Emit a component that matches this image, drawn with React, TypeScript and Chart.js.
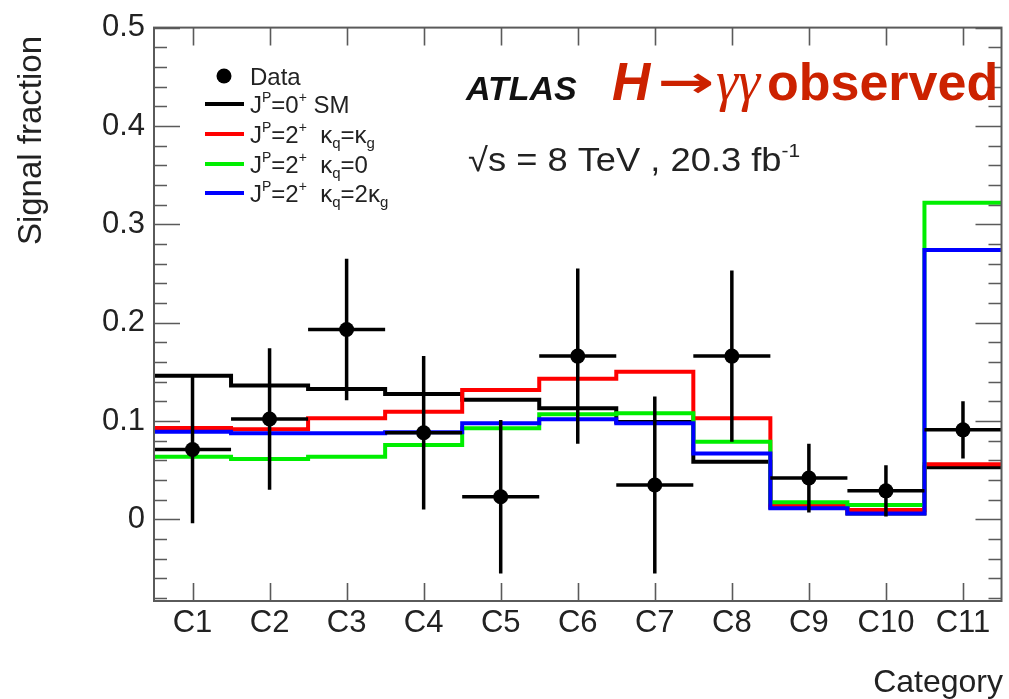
import React, { useEffect, useRef } from 'react';
import { Chart, registerables } from 'chart.js';

Chart.register(...registerables);

const FONT = '"Liberation Sans", Arial, Helvetica, sans-serif';

// Categories and axis tick labels
const CATEGORIES = ['C1', 'C2', 'C3', 'C4', 'C5', 'C6', 'C7', 'C8', 'C9', 'C10', 'C11'];
const Y_TICKS = [0, 0.1, 0.2, 0.3, 0.4, 0.5];
const Y_MIN = -0.083;
const Y_MAX = 0.5;

// Observed signal fraction per category with its (symmetric) uncertainty
const DATA_VALUES = [0.071, 0.102, 0.193, 0.088, 0.023, 0.166, 0.035, 0.166, 0.042, 0.029, 0.091];
const DATA_ERRORS = [0.075, 0.072, 0.072, 0.078, 0.078, 0.089, 0.090, 0.087, 0.035, 0.026, 0.029];

// Expected signal fractions for each spin-parity hypothesis
const SM_0P = [0.146, 0.136, 0.1325, 0.1275, 0.1215, 0.113, 0.099, 0.0586, 0.012, 0.006, 0.053];
const SPIN2_KQ_EQ_KG = [0.093, 0.0916, 0.1027, 0.1095, 0.1315, 0.143, 0.150, 0.1027, 0.0145, 0.0095, 0.056];
const SPIN2_KQ_ZERO = [0.0637, 0.0613, 0.0637, 0.0756, 0.0926, 0.107, 0.108, 0.079, 0.0173, 0.0145, 0.322];
const SPIN2_KQ_2KG = [0.0891, 0.0875, 0.0875, 0.0885, 0.0977, 0.1017, 0.0977, 0.067, 0.0112, 0.006, 0.274];

// Histogram outline: one point on each bin's left edge, plus the closing right edge
function histPoints(values: number[]) {
  const pts = values.map((v, i) => ({ x: i + 0.5, y: v }));
  pts.push({ x: values.length + 0.5, y: values[values.length - 1] });
  return pts;
}

type Seg = { t: string; size: number; dy?: number; style?: string; family?: string; sx?: number };

// Draws a run of text pieces (super/subscripts, symbols) left to right
function drawRich(ctx: CanvasRenderingContext2D, segs: Seg[], x: number, y: number, color: string) {
  let cx = x;
  ctx.fillStyle = color;
  ctx.textBaseline = 'alphabetic';
  ctx.textAlign = 'left';
  for (const s of segs) {
    const sx = s.sx ?? 1;
    ctx.font = `${s.style ?? ''} ${s.size}px ${s.family ?? FONT}`;
    ctx.save();
    ctx.translate(cx, y + (s.dy ?? 0));
    ctx.scale(sx, 1);
    ctx.fillText(s.t, 0, 0);
    ctx.restore();
    cx += ctx.measureText(s.t).width * sx;
  }
  return cx;
}

const LSZ = 24;
const jp = (spin: string): Seg[] => [
  { t: 'J', size: LSZ },
  { t: 'P', size: 14, dy: -11 },
  { t: '=' + spin, size: LSZ },
  { t: '+', size: 14, dy: -11 },
];

const LEGEND_ROWS: { color: string; segs: Seg[] }[] = [
  { color: '#000000', segs: [...jp('0'), { t: ' SM', size: LSZ }] },
  {
    color: '#ff0000',
    segs: [...jp('2'), { t: '  κ', size: LSZ }, { t: 'q', size: 15, dy: 5 }, { t: '=κ', size: LSZ }, { t: 'g', size: 15, dy: 5 }],
  },
  {
    color: '#00ee00',
    segs: [...jp('2'), { t: '  κ', size: LSZ }, { t: 'q', size: 15, dy: 5 }, { t: '=0', size: LSZ }],
  },
  {
    color: '#0000ff',
    segs: [...jp('2'), { t: '  κ', size: LSZ }, { t: 'q', size: 15, dy: 5 }, { t: '=2κ', size: LSZ }, { t: 'g', size: 15, dy: 5 }],
  },
];

// Error bars for the data points: full bin width horizontally
const errorBarPlugin = {
  id: 'errorBars',
  afterDatasetsDraw(chart: any) {
    const { ctx } = chart;
    const xs = chart.scales.x;
    const ys = chart.scales.y;
    ctx.save();
    ctx.strokeStyle = '#000';
    ctx.lineWidth = 3.5;
    ctx.lineCap = 'butt';
    DATA_VALUES.forEach((v, i) => {
      const xc = xs.getPixelForValue(i + 1);
      const xl = xs.getPixelForValue(i + 0.5);
      const xr = xs.getPixelForValue(i + 1.5);
      const yc = ys.getPixelForValue(v);
      const yt = ys.getPixelForValue(v + DATA_ERRORS[i]);
      const yb = ys.getPixelForValue(v - DATA_ERRORS[i]);
      ctx.beginPath();
      ctx.moveTo(xl, yc);
      ctx.lineTo(xr, yc);
      ctx.moveTo(xc, yt);
      ctx.lineTo(xc, yb);
      ctx.stroke();
    });
    ctx.restore();
  },
};

// Frame with inward ticks on all four sides, plus labels and legend
const framePlugin = {
  id: 'frameAndText',
  afterDraw(chart: any) {
    const { ctx, chartArea: a } = chart;
    const xs = chart.scales.x;
    const ys = chart.scales.y;
    ctx.save();
    ctx.strokeStyle = '#5a5a5a';
    ctx.lineWidth = 2;
    ctx.strokeRect(a.left, a.top, a.right - a.left, a.bottom - a.top);

    ctx.beginPath();
    CATEGORIES.forEach((_, i) => {
      const px = Math.round(xs.getPixelForValue(i + 1)) + 0.5;
      ctx.moveTo(px, a.bottom);
      ctx.lineTo(px, a.bottom - 18);
      ctx.moveTo(px, a.top);
      ctx.lineTo(px, a.top + 18);
    });
    for (let k = Math.ceil(Y_MIN / 0.02 - 1e-6); k * 0.02 <= Y_MAX + 1e-9; k++) {
      const v = k * 0.02;
      const major = k % 5 === 0;
      const len = major ? 26 : 13;
      const py = Math.round(ys.getPixelForValue(v)) + 0.5;
      ctx.moveTo(a.left, py);
      ctx.lineTo(a.left + len, py);
      ctx.moveTo(a.right, py);
      ctx.lineTo(a.right - len, py);
    }
    ctx.lineWidth = 1.6;
    ctx.stroke();

    // Axis titles
    ctx.fillStyle = '#222';
    ctx.font = `32px ${FONT}`;
    ctx.textAlign = 'right';
    ctx.textBaseline = 'alphabetic';
    ctx.fillText('Category', 1003, 692);

    ctx.save();
    ctx.translate(41, 36);
    ctx.rotate(-Math.PI / 2);
    ctx.textAlign = 'right';
    ctx.font = `33px ${FONT}`;
    ctx.fillText('Signal fraction', 0, 0);
    ctx.restore();

    // Experiment label and process
    ctx.textAlign = 'left';
    ctx.font = `italic bold 34px ${FONT}`;
    ctx.fillStyle = '#111';
    ctx.fillText('ATLAS', 466, 100);

    const red = '#cc2200';
    drawRich(ctx, [{ t: 'H', size: 53, style: 'italic bold' }], 612, 100, red);
    drawRich(ctx, [{ t: '→', size: 44, style: 'bold', family: '"DejaVu Sans"', sx: 1.55 }], 657, 97, red);
    drawRich(ctx, [{ t: 'γγ', size: 56, style: 'italic', family: '"Liberation Serif"' }], 716, 100, red);
    drawRich(ctx, [{ t: 'observed', size: 52, style: 'bold' }], 767, 100, red);

    drawRich(
      ctx,
      [
        { t: '√s = 8 TeV , 20.3 fb', size: 33, sx: 1.1 },
        { t: '-1', size: 19, dy: -14, sx: 1.1 },
      ],
      468,
      171,
      '#222',
    );

    // Legend
    ctx.beginPath();
    ctx.fillStyle = '#000';
    ctx.arc(224, 76, 7.5, 0, Math.PI * 2);
    ctx.fill();
    drawRich(ctx, [{ t: 'Data', size: LSZ }], 250, 85, '#222');
    const rowsY = [104, 134, 164, 193];
    LEGEND_ROWS.forEach((row, i) => {
      ctx.strokeStyle = row.color;
      ctx.lineWidth = 4;
      ctx.beginPath();
      ctx.moveTo(205, rowsY[i]);
      ctx.lineTo(244, rowsY[i]);
      ctx.stroke();
      drawRich(ctx, row.segs, 250, rowsY[i] + 9, '#222');
    });
    ctx.restore();
  },
};

export default function App() {
  const canvasRef = useRef<HTMLCanvasElement | null>(null);

  useEffect(() => {
    const canvas = canvasRef.current;
    if (!canvas) return;
    const step = (label: string, values: number[], color: string, order: number) => ({
      type: 'line' as const,
      label,
      data: histPoints(values),
      borderColor: color,
      borderWidth: 4,
      stepped: 'before' as const,
      pointRadius: 0,
      fill: false,
      order,
      borderJoinStyle: 'miter' as const,
      borderCapStyle: 'butt' as const,
    });

    const chart = new Chart(canvas, {
      type: 'line',
      data: {
        datasets: [
          {
            type: 'line',
            label: 'Data',
            data: DATA_VALUES.map((v, i) => ({ x: i + 1, y: v })),
            showLine: false,
            pointRadius: 7.5,
            pointBackgroundColor: '#000',
            pointBorderColor: '#000',
            pointBorderWidth: 0,
            order: 0,
          },
          step('J^P=2^+ kq=2kg', SPIN2_KQ_2KG, '#0000ff', 1),
          step('J^P=2^+ kq=0', SPIN2_KQ_ZERO, '#00ee00', 2),
          step('J^P=2^+ kq=kg', SPIN2_KQ_EQ_KG, '#ff0000', 3),
          step('J^P=0^+ SM', SM_0P, '#000000', 4),
        ] as any,
      },
      options: {
        responsive: false,
        animation: false,
        events: [],
        layout: { padding: { top: 25, right: 4, left: 0, bottom: 0 } },
        plugins: { legend: { display: false }, tooltip: { enabled: false } },
        scales: {
          x: {
            type: 'linear',
            min: 0.5,
            max: 11.5,
            afterBuildTicks: (s: any) => {
              s.ticks = CATEGORIES.map((_, i) => ({ value: i + 1 }));
            },
            afterFit: (s: any) => {
              s.height = 98;
            },
            ticks: {
              autoSkip: false,
              maxRotation: 0,
              padding: 4,
              color: '#222',
              font: { size: 31, family: FONT },
              callback: (v: any) => CATEGORIES[Math.round(Number(v)) - 1] ?? '',
            },
            grid: { display: false, drawTicks: false },
            border: { display: false },
          },
          y: {
            type: 'linear',
            min: Y_MIN,
            max: Y_MAX,
            afterBuildTicks: (s: any) => {
              s.ticks = Y_TICKS.map((v) => ({ value: v }));
            },
            afterFit: (s: any) => {
              s.width = 154;
            },
            ticks: {
              padding: 9,
              color: '#222',
              font: { size: 31, family: FONT },
              callback: (v: any) => (Math.abs(Number(v)) < 1e-9 ? '0' : Number(v).toFixed(1)),
            },
            grid: { display: false, drawTicks: false },
            border: { display: false },
          },
        },
      },
      plugins: [errorBarPlugin, framePlugin],
    });
    return () => chart.destroy();
  }, []);

  return (
    <div style={{ position: 'absolute', left: 0, top: 0, width: 1009, height: 699, background: '#fff' }}>
      <canvas ref={canvasRef} width={1009} height={699} style={{ display: 'block' }} />
    </div>
  );
}
